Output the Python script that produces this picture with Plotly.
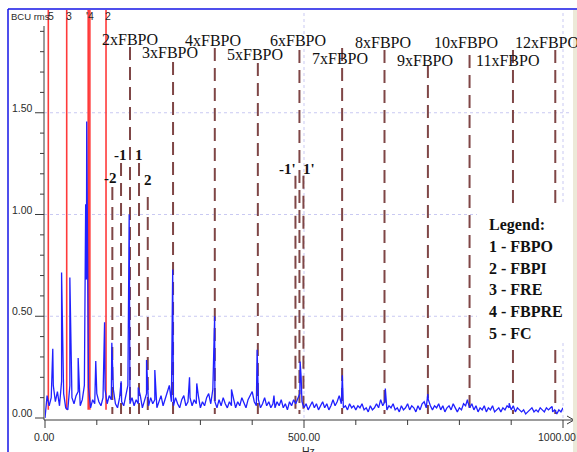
import plotly.graph_objects as go

# ---------------- spectrum data (BCU rms vs Hz) ----------------
FREQ_STEP_HZ = 4
floor_amp = [
    0.00, 0.11, 0.06, 0.10, 0.16, 0.08, 0.13, 0.06, 0.18, 0.12,
    0.05, 0.04, 0.16, 0.10, 0.07, 0.11, 0.13, 0.06, 0.09, 0.16,
    0.68, 0.15, 0.05, 0.09, 0.07, 0.12, 0.08, 0.06, 0.10, 0.14,
    0.07, 0.11, 0.09, 0.14, 0.07, 0.05, 0.10, 0.08, 0.06, 0.12,
    0.16, 0.07, 0.10, 0.06, 0.09, 0.07, 0.11, 0.05, 0.08, 0.12,
    0.06, 0.10, 0.07, 0.09, 0.05, 0.08, 0.11, 0.06, 0.09, 0.13,
    0.16, 0.08, 0.06, 0.10, 0.07, 0.05, 0.09, 0.11, 0.06, 0.08,
    0.10, 0.06, 0.09, 0.07, 0.11, 0.05, 0.08, 0.06, 0.10, 0.12,
    0.07, 0.14, 0.08, 0.05, 0.09, 0.06, 0.10, 0.07, 0.05, 0.08,
    0.06, 0.09, 0.05, 0.08, 0.06, 0.10, 0.07, 0.05, 0.09, 0.11,
    0.13, 0.08, 0.06, 0.09, 0.05, 0.07, 0.10, 0.06, 0.08, 0.05,
    0.07, 0.05, 0.08, 0.06, 0.09, 0.05, 0.07, 0.04, 0.08, 0.06,
    0.09, 0.07, 0.10, 0.12, 0.08, 0.05, 0.07, 0.04, 0.06, 0.08,
    0.05, 0.07, 0.04, 0.06, 0.08, 0.05, 0.07, 0.04, 0.06, 0.09,
    0.06, 0.08, 0.11, 0.07, 0.05, 0.06, 0.04, 0.07, 0.05, 0.06,
    0.04, 0.06, 0.05, 0.07, 0.04, 0.05, 0.03, 0.06, 0.04, 0.05,
    0.07, 0.05, 0.09, 0.06, 0.08, 0.04, 0.06, 0.05, 0.07, 0.04,
    0.05, 0.03, 0.06, 0.04, 0.05, 0.07, 0.04, 0.06, 0.05, 0.03,
    0.06, 0.04, 0.07, 0.08, 0.05, 0.09, 0.06, 0.04, 0.06, 0.05,
    0.07, 0.04, 0.06, 0.03, 0.05, 0.06, 0.04, 0.07, 0.05, 0.03,
    0.05, 0.04, 0.07, 0.06, 0.08, 0.05, 0.07, 0.04, 0.06, 0.03,
    0.05, 0.04, 0.06, 0.03, 0.05, 0.04, 0.06, 0.03, 0.04, 0.05,
    0.03, 0.05, 0.04, 0.06, 0.05, 0.04, 0.06, 0.03, 0.05, 0.04,
    0.03, 0.04, 0.02, 0.03, 0.04, 0.05, 0.03, 0.04, 0.03, 0.05,
    0.04, 0.03, 0.05, 0.04, 0.05, 0.03, 0.04, 0.02, 0.04, 0.03,
    0.05,
]
freq_grid = [i * FREQ_STEP_HZ for i in range(len(floor_amp))]

# discrete spectral peaks
peak_hz = [15, 32, 48, 64, 78.5, 80.5, 98, 115, 129, 147, 162.5, 180, 196, 212,
           246.5, 279, 293, 327.5, 360, 409.5, 442, 492.5, 494.5, 574, 657, 739,
           815.5, 896, 979]
peak_amp = [0.34, 0.715, 0.69, 0.295, 1.05, 1.457, 0.28, 0.47, 0.37, 0.18, 1.00, 0.15,
            0.285, 0.236, 0.73, 0.20, 0.17, 0.50, 0.14, 0.335, 0.11, 0.277, 0.20,
            0.21, 0.145, 0.118, 0.09, 0.073, 0.056]

# bearing fault frequency markers (solid red)
fault_hz = [6.4, 41.9, 83.4, 86.6, 117.8]
fault_tags = ["5", "3", "'4", "2"]
fault_tag_hz = [11.0, 46.9, 87.3, 121.6]

# FBPO harmonics (dashed)
harm_order = [2, 3, 4, 5, 6, 7, 8, 9, 10, 11, 12]
harm_hz = [164.1, 247.2, 327.8, 410.9, 491.2, 573.6, 655.4, 739.2, 819.6, 903.4, 985.1]
harm_top = [1.823, 1.749, 1.818, 1.744, 1.808, 1.818, 1.808, 1.735, 1.784, 1.808, 1.808]
harm_label_hz = [164.1, 241.3, 324.3, 405.4, 488.4, 569.5, 652.5, 733.6, 812.7, 891.9, 969.1]
harm_label_y = [1.862, 1.794, 1.857, 1.784, 1.857, 1.769, 1.843, 1.759, 1.843, 1.759, 1.843]

# sidebands around 2xFBPO and 6xFBPO
side_hz = [130.0, 146.8, 181.5, 198.4, 483.5, 498.9]
side_top = [1.135, 1.253, 1.253, 1.086, 1.19, 1.19]
side_tags = ["-2", "-1", "1", "2", "-1'", "1'"]
side_tag_hz = [125.5, 146.1, 181.5, 198.3, 469.1, 510.6]
side_tag_y = [1.179, 1.292, 1.292, 1.169, 1.224, 1.224]

legend_lines = ["Legend:", "1 - FBPO", "2 - FBPI", "3 - FRE", "4 - FBPRE", "5 - FC"]

y_major = [0.0, 0.5, 1.0, 1.5]
y_minor = [0.1, 0.2, 0.3, 0.4, 0.6, 0.7, 0.8, 0.9, 1.1, 1.2, 1.3, 1.4, 1.6, 1.7, 1.8, 1.9]
x_ticks = [0, 100, 200, 300, 400, 500, 600, 700, 800, 900, 1000]
x_major = [0, 500, 1000]

# ---------------- geometry ----------------
W, H = 577, 452
ML, MR, MT, MB = 45, 14, 11, 34
PW, PH = W - ML - MR, H - MT - MB
X_MAX, Y_MAX = 1000.0, 2.0


def xp(hz):
    return hz / X_MAX


def yp(v):
    return v / Y_MAX


def pxx(px):
    return (px - ML) / PW


def pxy(py):
    return (H - MB - py) / PH


pts = sorted(zip(freq_grid + peak_hz, floor_amp + peak_amp))
fx = [p[0] for p in pts]
fy = [p[1] for p in pts]

fig = go.Figure()
fig.add_trace(go.Scatter(x=fx, y=fy, mode="lines",
                         line=dict(color="#2020ff", width=1.3),
                         hoverinfo="skip"))

shapes = []
GRID = dict(color="#c9c9f2", width=1, dash="dot")

# dotted grid
for v in [0.5, 1.0, 1.5]:
    shapes.append(dict(type="line", xref="paper", yref="paper",
                       x0=pxx(44), x1=pxx(571), y0=yp(v), y1=yp(v), line=GRID, layer="below"))
for hz in [500, 1000]:
    shapes.append(dict(type="line", xref="paper", yref="paper",
                       x0=xp(hz), x1=xp(hz), y0=0, y1=pxy(10), line=GRID, layer="below"))

# marker lines sit underneath the spectrum trace
DASH = dict(color="#7f4646", width=2, dash="13px,7px")
for hz, top in zip(harm_hz + side_hz, harm_top + side_top):
    shapes.append(dict(type="line", xref="paper", yref="paper", layer="below",
                       x0=xp(hz), x1=xp(hz), y0=yp(top), y1=yp(0.02), line=DASH))

for hz in fault_hz:
    shapes.append(dict(type="line", xref="paper", yref="paper", layer="below",
                       x0=xp(hz), x1=xp(hz), y0=pxy(10), y1=yp(0.04),
                       line=dict(color="#ff3a3a", width=1.6)))

# legend panel background
shapes.append(dict(type="rect", xref="paper", yref="paper", layer="below",
                   x0=pxx(477), x1=pxx(571), y0=pxy(343), y1=pxy(205),
                   fillcolor="white", line=dict(width=0)))

AX = dict(color="#3a3a3a", width=1)
# axes
shapes.append(dict(type="line", xref="paper", yref="paper",
                   x0=pxx(44), x1=pxx(574), y0=pxy(420), y1=pxy(420), line=AX))
shapes.append(dict(type="path", xref="paper", yref="paper",
                   path=f"M {pxx(567)},{pxy(416)} L {pxx(574)},{pxy(420)} L {pxx(567)},{pxy(424)}",
                   line=AX))
shapes.append(dict(type="line", xref="paper", yref="paper",
                   x0=pxx(44), x1=pxx(44), y0=pxy(26), y1=pxy(420), line=AX))
for v in y_major:
    shapes.append(dict(type="line", xref="paper", yref="paper",
                       x0=pxx(35), x1=pxx(44), y0=yp(v), y1=yp(v), line=AX))
for v in y_minor:
    shapes.append(dict(type="line", xref="paper", yref="paper",
                       x0=pxx(40), x1=pxx(44), y0=yp(v), y1=yp(v), line=AX))
for hz in x_ticks:
    bottom = 428 if hz in x_major else 425
    shapes.append(dict(type="line", xref="paper", yref="paper",
                       x0=xp(hz), x1=xp(hz), y0=pxy(420), y1=pxy(bottom), line=AX))

# window frame
FRAME = dict(color="#1414e6", width=1.5)
shapes.append(dict(type="line", xref="paper", yref="paper",
                   x0=pxx(8), x1=pxx(578), y0=pxy(9), y1=pxy(9), line=FRAME))
shapes.append(dict(type="line", xref="paper", yref="paper",
                   x0=pxx(8), x1=pxx(8), y0=pxy(9), y1=pxy(453), line=FRAME))
shapes.append(dict(type="rect", xref="paper", yref="paper",
                   x0=pxx(573), x1=pxx(578), y0=pxy(453), y1=pxy(10),
                   fillcolor="#ece9d8", line=dict(width=0)))

ann = []
SANS = dict(family="Liberation Sans, Arial, sans-serif", size=10.5, color="#2a2a2a")
SERIF = dict(family="Liberation Serif, Times New Roman, serif", size=16, color="#111111")
SERIF_B = dict(family="Liberation Serif, Times New Roman, serif", size=16, color="#111111",
               weight="bold")

ann.append(dict(text="BCU rms", xref="paper", yref="paper", x=pxx(9), y=pxy(16),
                xanchor="left", yanchor="middle", showarrow=False,
                font=dict(SANS, size=9.5)))
for t, hz in zip(fault_tags, fault_tag_hz):
    ann.append(dict(text=t, xref="paper", yref="paper", x=xp(hz), y=pxy(16),
                    xanchor="center", yanchor="middle", showarrow=False, font=SANS))

for v in y_major:
    ann.append(dict(text=f"{v:.2f}", xref="paper", yref="paper", x=pxx(35), y=yp(v),
                    xanchor="right", yanchor="middle", yshift=5, showarrow=False, font=SANS))
for hz, cx in zip(x_major, [44, 303.5, 557]):
    ann.append(dict(text=f"{hz:.2f}", xref="paper", yref="paper", x=pxx(cx), y=pxy(437),
                    xanchor="center", yanchor="middle", showarrow=False, font=SANS))
ann.append(dict(text="Hz", xref="paper", yref="paper", x=pxx(308), y=pxy(451),
                xanchor="center", yanchor="middle", showarrow=False, font=SANS))

for n, hz, yv in zip(harm_order, harm_label_hz, harm_label_y):
    ann.append(dict(text=f"{n}xFBPO", xref="paper", yref="paper", x=xp(hz), y=yp(yv),
                    xanchor="center", yanchor="middle", showarrow=False, font=SERIF))

for t, hz, yv in zip(side_tags, side_tag_hz, side_tag_y):
    ann.append(dict(text=t, xref="paper", yref="paper", x=xp(hz), y=yp(yv),
                    xanchor="center", yanchor="middle", showarrow=False,
                    font=dict(SERIF_B, size=15)))

for i, t in enumerate(legend_lines):
    ann.append(dict(text=t, xref="paper", yref="paper", x=pxx(487), y=pxy(225 + 21.6 * i),
                    xanchor="left", yanchor="middle", showarrow=False, font=SERIF_B))

fig.update_layout(
    width=W, height=H,
    margin=dict(l=ML, r=MR, t=MT, b=MB, pad=0),
    paper_bgcolor="white", plot_bgcolor="white",
    showlegend=False,
    xaxis=dict(range=[0, X_MAX], visible=False, fixedrange=True),
    yaxis=dict(range=[0, Y_MAX], visible=False, fixedrange=True),
    shapes=shapes, annotations=ann,
)

fig.write_html("out.html", config={"displayModeBar": False})
